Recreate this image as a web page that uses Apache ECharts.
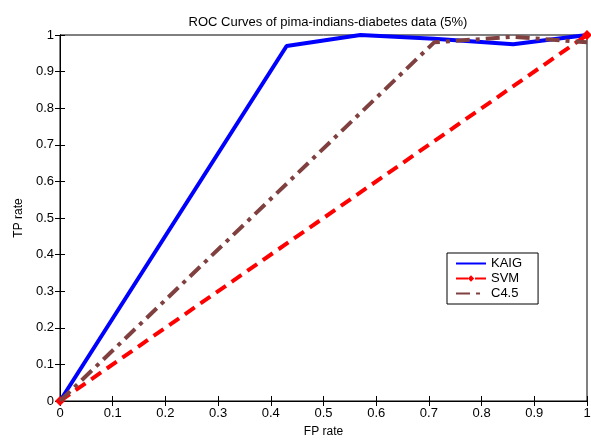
<!DOCTYPE html>
<html><head><meta charset="utf-8">
<script src="https://cdn.jsdelivr.net/npm/echarts@6/dist/echarts.min.js"></script>
<style>html,body{margin:0;padding:0;background:#fff}#c{width:591px;height:441px}</style>
</head><body><div id="c"></div>
<script>
const titleText = "ROC Curves of pima-indians-diabetes data (5%)";
const seriesNames = ["KAIG", "SVM", "C4.5"];
const kaigFP = [0, 0.43, 0.57, 0.71, 0.86, 1];
const kaigTP = [0, 0.97, 1.0, 0.99, 0.975, 1.0];
const svmFP = [0, 1];
const svmTP = [0, 1];
const c45FP = [0, 0.71, 0.86, 1];
const c45TP = [0, 0.98, 0.995, 0.98];
const tickLabels = [0, 0.1, 0.2, 0.3, 0.4, 0.5, 0.6, 0.7, 0.8, 0.9, 1];

const zip = (a, b) => a.map((v, i) => [v, b[i]]);
const font = 'Liberation Sans, Arial, sans-serif';
const fmt = v => String(Math.round(v * 10) / 10);

const chart = echarts.init(document.getElementById('c'));
const baseAxis = {
  type: 'value', min: 0, max: 1, interval: 0.1,
  axisLine: { show: true, lineStyle: { color: '#000', width: 1 } },
  axisTick: { show: true, inside: true, length: 5, lineStyle: { color: '#000' } },
  splitLine: { show: false }
};
chart.setOption({
  animation: false,
  backgroundColor: '#fff',
  title: { text: titleText, left: 323, top: 11, textAlign: 'center',
    textStyle: { fontFamily: font, fontSize: 13, fontWeight: 'normal', color: '#000' } },
  grid: { left: 60, right: 4, top: 35, bottom: 40, show: true, borderColor: '#000', borderWidth: 1,
    outerBoundsMode: 'none', containLabel: false },
  legend: {
    orient: 'vertical', left: 447, top: 253, padding: [3, 16, 3, 8], itemGap: 0,
    itemWidth: 30, itemHeight: 8,
    borderColor: '#000', borderWidth: 1, borderRadius: 0, backgroundColor: '#fff',
    textStyle: { fontFamily: font, fontSize: 13, color: '#000', lineHeight: 15 },
    data: [
      { name: seriesNames[0], itemStyle: { opacity: 0 } },
      { name: seriesNames[1] },
      { name: seriesNames[2], itemStyle: { opacity: 0 } }
    ]
  },
  xAxis: [
    Object.assign({}, baseAxis, { position: 'bottom', name: 'FP rate', nameLocation: 'middle', nameGap: 25,
      nameTextStyle: { fontFamily: font, fontSize: 12, color: '#000' },
      axisLabel: { fontFamily: font, fontSize: 13, color: '#000', margin: 6, formatter: fmt } }),
    Object.assign({}, baseAxis, { position: 'top', axisLabel: { show: false } })
  ],
  yAxis: [
    Object.assign({}, baseAxis, { position: 'left', name: 'TP rate', nameLocation: 'middle', nameGap: 33,
      nameTextStyle: { fontFamily: font, fontSize: 12, color: '#000' },
      axisLabel: { fontFamily: font, fontSize: 13, color: '#000', margin: 6, formatter: fmt } }),
    Object.assign({}, baseAxis, { position: 'right', axisLabel: { show: false } })
  ],
  series: [
    { name: seriesNames[0], type: 'line', data: zip(kaigFP, kaigTP), clip: false,
      symbol: 'none', color: '#0000ff', lineStyle: { color: '#0000ff', width: 4 }, z: 3 },
    { name: seriesNames[1], type: 'line', data: zip(svmFP, svmTP), clip: false,
      symbol: 'diamond', symbolSize: 10, color: '#ff0000', itemStyle: { color: '#ff0000' },
      lineStyle: { color: '#ff0000', width: 4, type: [12, 7] }, z: 4 },
    { name: seriesNames[2], type: 'line', data: zip(c45FP, c45TP), clip: false,
      symbol: 'none', color: '#804040', lineStyle: { color: '#804040', width: 4, type: [14, 6, 4, 6] }, z: 5 }
  ]
});
</script></body></html>
